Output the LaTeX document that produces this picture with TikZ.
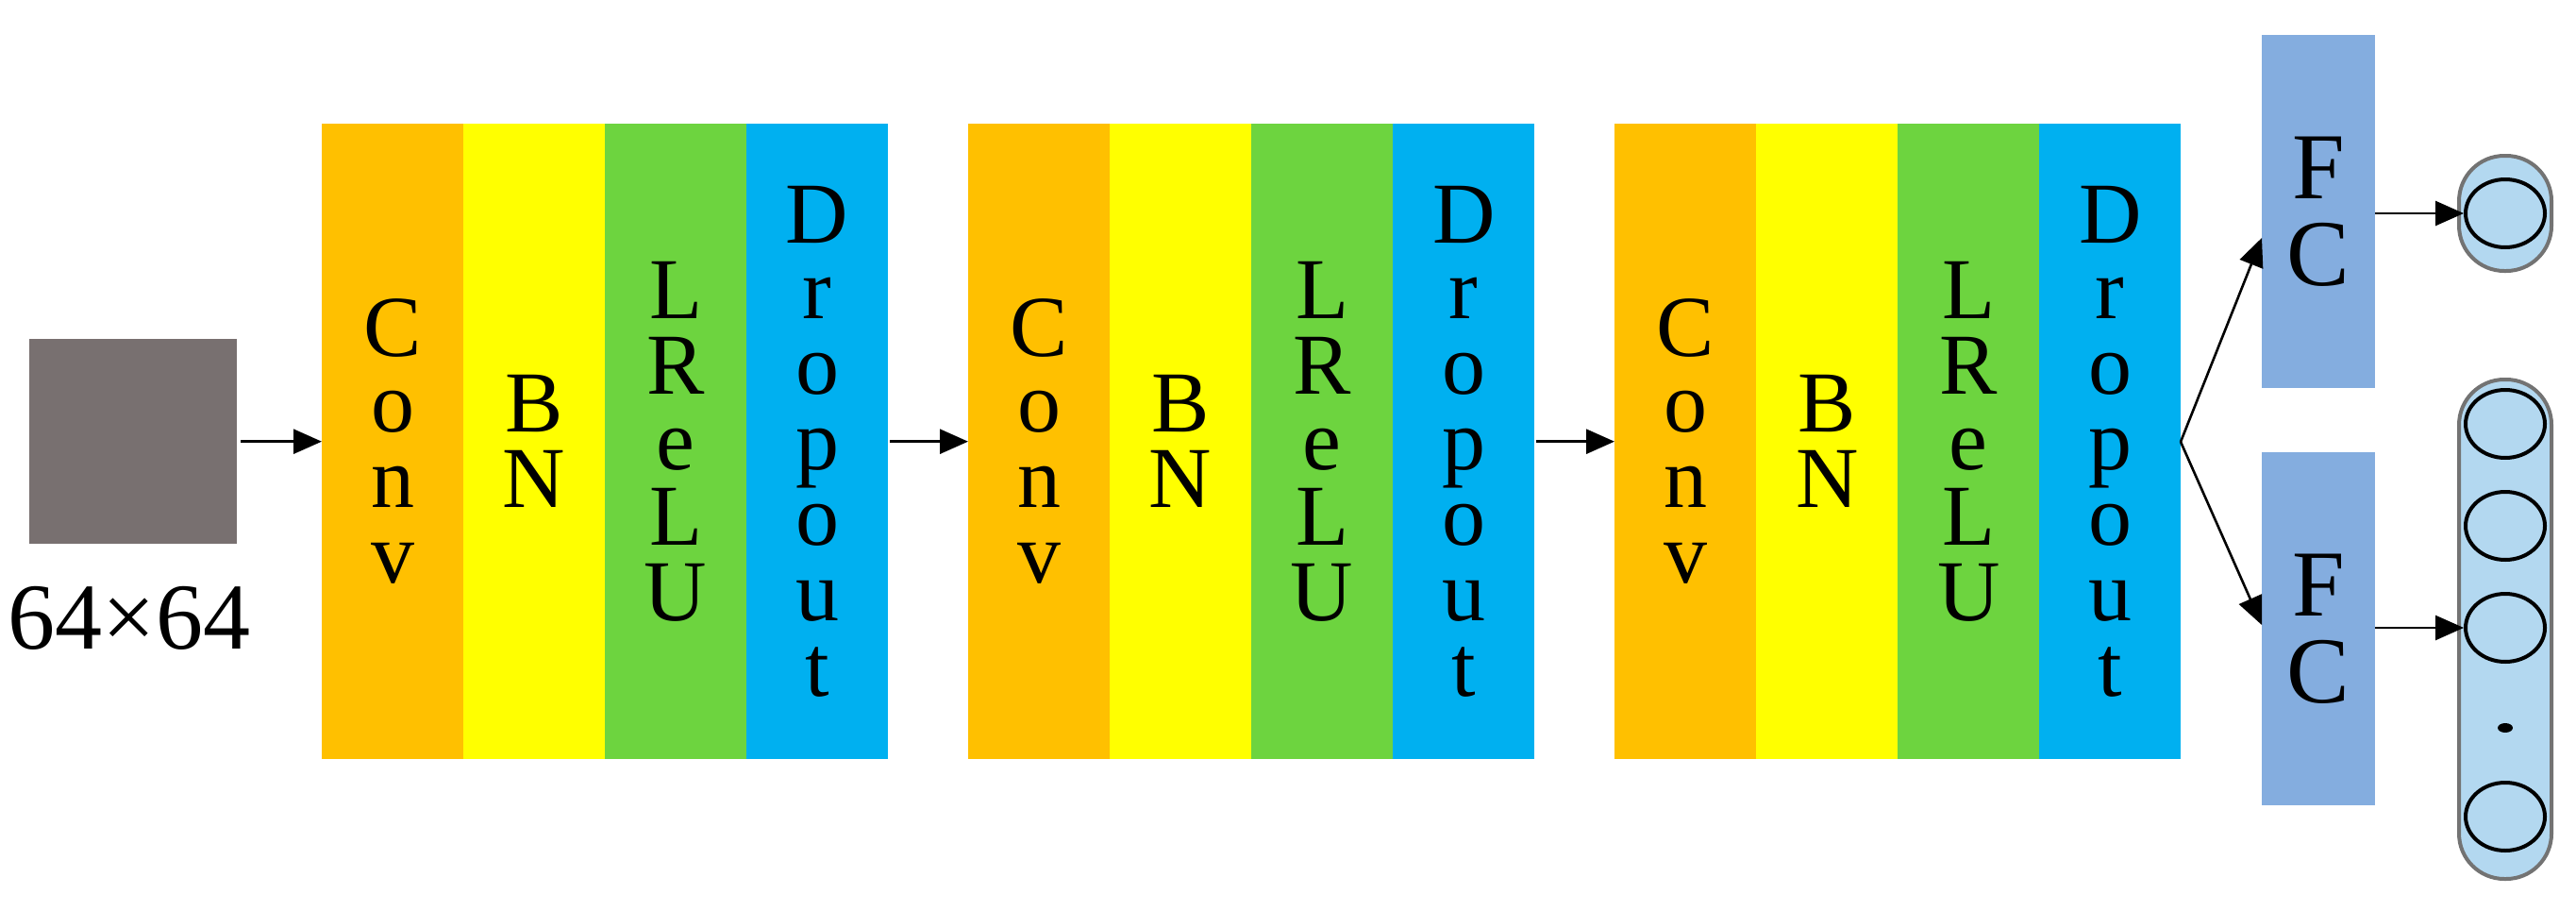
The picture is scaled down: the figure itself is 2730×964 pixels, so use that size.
\documentclass[tikz,border=0pt]{standalone}
\usepackage{fontspec}
\setmainfont{Liberation Serif}
\usetikzlibrary{arrows.meta,shapes.geometric}
\definecolor{cconv}{HTML}{FFC000}
\definecolor{cbn}{HTML}{FFFF00}
\definecolor{crelu}{HTML}{6DD43F}
\definecolor{cdrop}{HTML}{00B0F0}
\definecolor{cfc}{HTML}{84ADDF}
\definecolor{cgray}{HTML}{787070}
\definecolor{ccap}{HTML}{B3D8F0}
\begin{document}
\begin{tikzpicture}[x=1pt,y=-1pt,
  stripe/.style={minimum width=150pt,minimum height=673pt,inner sep=0pt,anchor=north west,align=center,font=\fontsize{92}{80}\selectfont},
  fcbox/.style={fill=cfc,minimum width=120pt,minimum height=374pt,inner sep=0pt,anchor=north west,align=center,font=\fontsize{100}{92}\selectfont},
  arr/.style={line width=2.6pt,-{Triangle[length=30pt,width=26pt]}},
  capsule/.style={draw=gray!90!black,line width=4pt,fill=ccap,rounded corners=48pt},
  neuron/.style={draw=black,line width=4pt,ellipse,minimum width=84pt,minimum height=72pt,inner sep=0pt}]
\useasboundingbox (0,0) rectangle (2730,964);
\node[fill=cgray,minimum width=220pt,minimum height=217pt,inner sep=0pt,anchor=north west] (img) at (31,359) {};
\node[font=\fontsize{100}{100}\selectfont] (lbl) at (137,655) {64\texttimes64};
\foreach \i/\x in {1/341,2/1026,3/1711}{
  \node[stripe,fill=cconv] (c\i) at (\x,131) {C\\o\\n\\v};
  \node[stripe,fill=cbn] (b\i) at (\x+150,131) {B\\N};
  \node[stripe,fill=crelu] (r\i) at (\x+300,131) {L\\R\\e\\L\\U};
  \node[stripe,fill=cdrop] (d\i) at (\x+450,131) {D\\r\\o\\p\\o\\u\\t};
}
\node[fcbox] (fc1) at (2397,37) {F\\C};
\node[fcbox] (fc2) at (2397,479) {F\\C};
\draw[capsule] (2606,165) rectangle (2704,287);
\node[neuron] (o1) at (2655,226) {};
\draw[capsule] (2606,402) rectangle (2704,931);
\node[neuron] (n1) at (2655,449) {};
\node[neuron] (n2) at (2655,557) {};
\node[neuron] (n3) at (2655,665) {};
\fill (2655,771) ellipse (8pt and 5pt);
\node[neuron] (n4) at (2655,865) {};
\coordinate (br) at (2311,468);
\draw[arr] (img.east) ++(4,0) -- (c1.west);
\draw[arr] (d1.east) ++(2,0) -- (c2.west);
\draw[arr] (d2.east) ++(2,0) -- (c3.west);
\draw[arr] (br) -- (2397,252);
\draw[arr] (br) -- (2397,662);
\draw[arr] (fc1.east|-o1) -- (o1.west);
\draw[arr] (fc2.east|-n3) -- (n3.west);
\end{tikzpicture}
\end{document}
